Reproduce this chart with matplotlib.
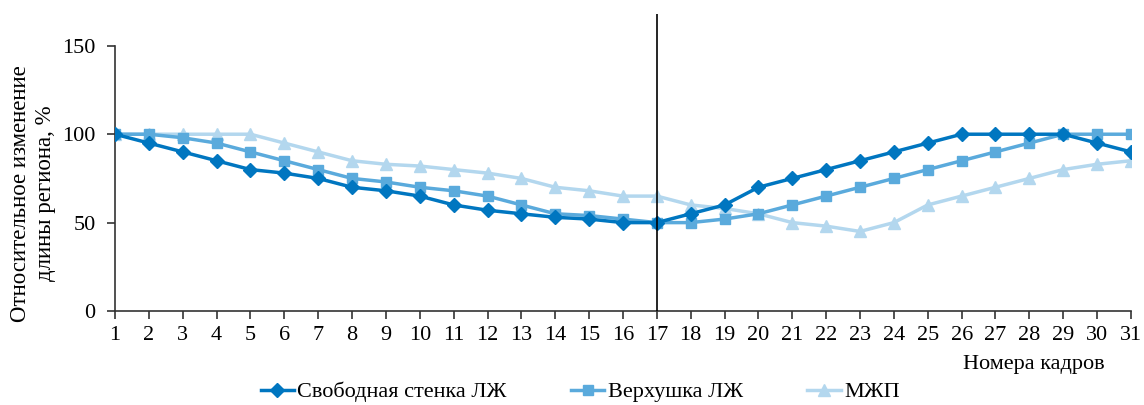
import matplotlib
matplotlib.use("Agg")
import matplotlib.pyplot as plt

frames = list(range(1, 32))
free_wall = [100, 95, 90, 85, 80, 78, 75, 70, 68, 65, 60, 57, 55, 53, 52, 50, 50,
             55, 60, 70, 75, 80, 85, 90, 95, 100, 100, 100, 100, 95, 90]
apex = [100, 100, 98, 95, 90, 85, 80, 75, 73, 70, 68, 65, 60, 55, 54, 52, 50,
        50, 52, 55, 60, 65, 70, 75, 80, 85, 90, 95, 100, 100, 100]
septum = [100, 100, 100, 100, 100, 95, 90, 85, 83, 82, 80, 78, 75, 70, 68, 65, 65,
          60, 58, 55, 50, 48, 45, 50, 60, 65, 70, 75, 80, 83, 85]
labels = ["Свободная стенка ЛЖ", "Верхушка ЛЖ", "МЖП"]
y_ticks = [0, 50, 100, 150]
marker_frame = 17

plt.rcParams['font.family'] = ['Liberation Serif', 'DejaVu Serif']

fig = plt.figure(figsize=(11.44, 4.05), dpi=100)
ax = fig.add_axes([0.1005, 0.2321, 0.8881, 0.7333])

c1, c2, c3 = '#0076c0', '#5aaadc', '#b3d7ee'
ax.plot(frames, septum, color=c3, marker='^', markersize=8.5, lw=2.5, label=labels[2], zorder=3)
ax.plot(frames, apex, color=c2, marker='s', markersize=6.8, lw=2.5, label=labels[1], zorder=4)
ax.plot(frames, free_wall, color=c1, marker='D', markersize=7.5, lw=2.5, label=labels[0], zorder=5)

ax.axvline(marker_frame, color='black', lw=1.2, zorder=6)

ax.set_xlim(1, 31)
ax.set_ylim(0, 168)
ax.set_xticks(frames)
ax.set_yticks(y_ticks)
ax.spines['left'].set_bounds(0, 150)
for s in ['top', 'right']:
    ax.spines[s].set_visible(False)
for s in ['left', 'bottom']:
    ax.spines[s].set_color('#333333')
    ax.spines[s].set_linewidth(1.2)
ax.tick_params(axis='both', labelsize=16, direction='out', length=6, width=1.2, color='#333333')
ax.tick_params(axis='x', pad=5)
ax.tick_params(axis='y', pad=8)

fig.text(0.0288, 0.523, "Относительное изменение\nдлины региона, %", fontsize=16.5,
         rotation=90, ha='center', va='center', multialignment='center', linespacing=1.25)
fig.text(0.966, 0.099, "Номера кадров", fontsize=16, ha='right', va='center')

handles, lbls = ax.get_legend_handles_labels()
order = [2, 1, 0]
fig.legend([handles[i] for i in order], [lbls[i] for i in order], loc='center',
           bbox_to_anchor=(0.507, 0.032), ncol=3, frameon=False, fontsize=16,
           columnspacing=2.9, handlelength=1.5, handletextpad=0.15)

fig.savefig('out.png', dpi=100)
